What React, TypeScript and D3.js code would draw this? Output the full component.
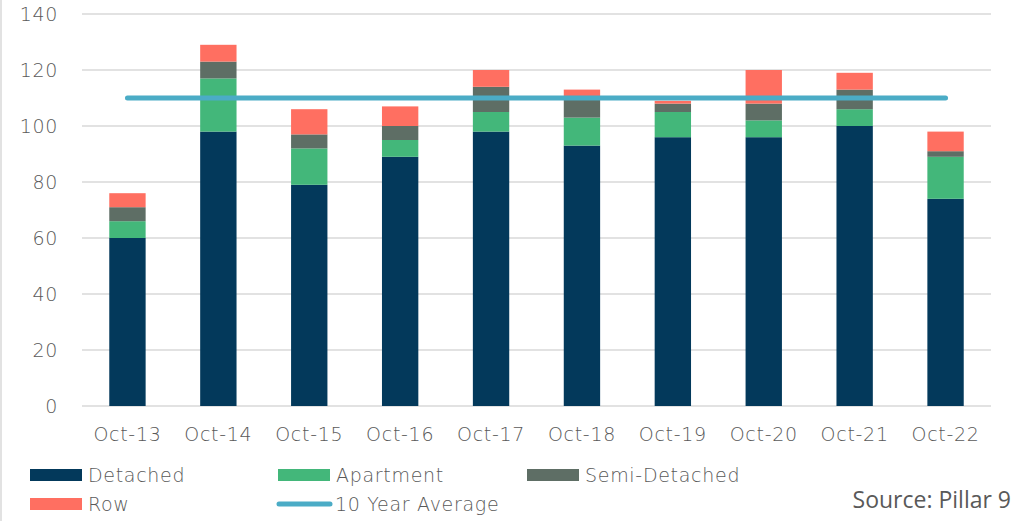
import React from "react";
import * as d3 from "d3";

const categories = ["Oct-13", "Oct-14", "Oct-15", "Oct-16", "Oct-17", "Oct-18", "Oct-19", "Oct-20", "Oct-21", "Oct-22"];
const detached = [60, 98, 79, 89, 98, 93, 96, 96, 100, 74];
const apartment = [6, 19, 13, 6, 7, 10, 9, 6, 6, 15];
const semiDetached = [5, 6, 5, 5, 9, 7, 3, 6, 7, 2];
const row = [5, 6, 9, 7, 6, 3, 1, 12, 6, 7];
const tenYearAverage = 110;
const yTicks = [0, 20, 40, 60, 80, 100, 120, 140];

const seriesNames = ["Detached", "Apartment", "Semi-Detached", "Row"];
const colors = ["#03395B", "#43B77A", "#5E6E65", "#FF6F61"];
const avgColor = "#4BACC6";

const W = 1013;
const H = 521;
const M = { left: 82, right: 991, top: 14, bottom: 406 };
const FONT = "'DejaVu Sans', sans-serif";
const FS = 19;
const LS = 0.7;
const FW = 300;

export default function App() {
  const x = d3.scaleBand<string>().domain(categories).range([M.left, M.right]).paddingInner(0.6).paddingOuter(0.3);
  const y = d3.scaleLinear().domain([0, 140]).range([M.bottom, M.top]);

  const table = categories.map((c, i) => ({
    cat: c,
    Detached: detached[i],
    Apartment: apartment[i],
    "Semi-Detached": semiDetached[i],
    Row: row[i],
  }));
  const stacked = d3.stack<any>().keys(seriesNames)(table);

  const xFirst = (x(categories[0]) as number) + x.bandwidth() / 2;
  const xLast = (x(categories[categories.length - 1]) as number) + x.bandwidth() / 2;
  const avgLine = d3.line<number>()
    .x((d) => d)
    .y(() => y(tenYearAverage))([xFirst, xLast]);

  const textColor = "#595959";

  return (
    <svg width={W} height={H} style={{ position: "absolute", left: 0, top: 0, background: "#fff" }}>
      <line x1={1} x2={1} y1={0} y2={H} stroke="#D9D9D9" strokeWidth={1.5} />
      {yTicks.map((t) => (
        <g key={t}>
          <line x1={M.left} x2={M.right} y1={y(t)} y2={y(t)} stroke="#D9D9D9" strokeWidth={1.3} />
          <text x={58} y={y(t)} dy="0.36em" textAnchor="end" fontFamily={FONT} fontSize={FS} fontWeight={FW} letterSpacing={LS} fill={textColor}>
            {t}
          </text>
        </g>
      ))}
      {stacked.map((s, si) => (
        <g key={s.key} fill={colors[si]}>
          {s.map((d, i) => (
            <rect
              key={i}
              x={x(categories[i]) as number}
              width={x.bandwidth()}
              y={y(d[1])}
              height={Math.max(0, y(d[0]) - y(d[1]))}
            />
          ))}
        </g>
      ))}
      <path d={avgLine || ""} stroke={avgColor} strokeWidth={5} strokeLinecap="round" fill="none" />
      {categories.map((c) => (
        <text
          key={c}
          x={(x(c) as number) + x.bandwidth() / 2}
          y={441}
          textAnchor="middle"
          fontFamily={FONT}
          fontSize={FS}
          fontWeight={FW}
          letterSpacing={LS}
          fill={textColor}
        >
          {c}
        </text>
      ))}
      {[
        { name: "Detached", color: colors[0], sx: 30, sy: 475 },
        { name: "Apartment", color: colors[1], sx: 278, sy: 475 },
        { name: "Semi-Detached", color: colors[2], sx: 527, sy: 475 },
        { name: "Row", color: colors[3], sx: 30, sy: 504 },
      ].map((l) => (
        <g key={l.name}>
          <rect x={l.sx} y={l.sy - 6} width={52} height={12} fill={l.color} />
          <text x={l.sx + 58} y={l.sy} dy="0.36em" fontFamily={FONT} fontSize={FS} fontWeight={FW} letterSpacing={LS} fill={textColor}>
            {l.name}
          </text>
        </g>
      ))}
      <line x1={279} x2={330} y1={504} y2={504} stroke={avgColor} strokeWidth={5} strokeLinecap="round" />
      <text x={335} y={504} dy="0.36em" fontFamily={FONT} fontSize={FS} fontWeight={FW} letterSpacing={LS} fill={textColor}>
        10 Year Average
      </text>
      <text x={1011} y={508} textAnchor="end" fontFamily="'Open Sans', sans-serif" fontSize={23} fill="#595959">
        Source: Pillar 9
      </text>
    </svg>
  );
}
